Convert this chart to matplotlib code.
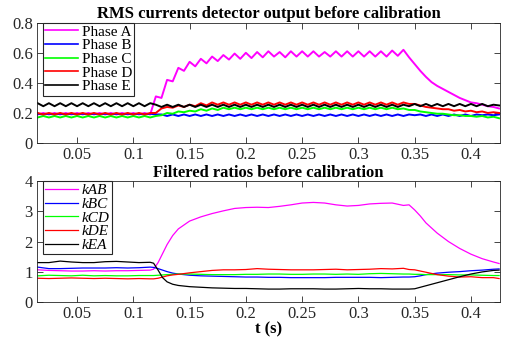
import numpy as np
import matplotlib
matplotlib.use("Agg")
import matplotlib.pyplot as plt

plt.rcParams['font.family'] = ['Liberation Serif', 'DejaVu Serif']

#time base of the detector output (s)
t_top = np.round(0.015 + 0.005*np.arange(83), 3)

#RMS currents (upper panel)
phase_a = [0.19, 0.20, 0.19, 0.20, 0.19, 0.20, 0.19, 0.20, 0.19, 0.20,
           0.19, 0.20, 0.19, 0.20, 0.19, 0.20, 0.19, 0.20, 0.19, 0.20,
           0.19, 0.31, 0.30, 0.42, 0.41, 0.50, 0.48, 0.54, 0.51, 0.56,
           0.53, 0.575, 0.545, 0.585, 0.555, 0.595, 0.56, 0.60, 0.565, 0.605,
           0.57, 0.61, 0.575, 0.605, 0.57, 0.61, 0.575, 0.61, 0.575, 0.61,
           0.575, 0.605, 0.575, 0.61, 0.575, 0.61, 0.575, 0.61, 0.575, 0.61,
           0.575, 0.61, 0.575, 0.615, 0.58, 0.62, 0.57, 0.525, 0.48, 0.44,
           0.405, 0.38, 0.36, 0.34, 0.32, 0.30, 0.285, 0.27, 0.265, 0.255,
           0.245, 0.24, 0.23]
phase_b = [0.195, 0.19, 0.195, 0.19, 0.195, 0.19, 0.195, 0.19, 0.195, 0.19,
           0.195, 0.19, 0.195, 0.19, 0.195, 0.19, 0.195, 0.19, 0.195, 0.19,
           0.195, 0.19, 0.19, 0.18, 0.19, 0.18, 0.19, 0.18, 0.19, 0.18,
           0.19, 0.18, 0.19, 0.18, 0.19, 0.18, 0.19, 0.18, 0.19, 0.18,
           0.19, 0.18, 0.19, 0.18, 0.19, 0.18, 0.19, 0.18, 0.19, 0.18,
           0.19, 0.18, 0.19, 0.18, 0.19, 0.18, 0.19, 0.18, 0.19, 0.18,
           0.19, 0.18, 0.19, 0.18, 0.19, 0.18, 0.19, 0.185, 0.19, 0.18,
           0.19, 0.18, 0.19, 0.18, 0.19, 0.18, 0.19, 0.18, 0.19, 0.185,
           0.19, 0.185, 0.19]
phase_c = [0.17, 0.18, 0.17, 0.18, 0.17, 0.18, 0.17, 0.18, 0.17, 0.18,
           0.17, 0.18, 0.17, 0.18, 0.17, 0.18, 0.17, 0.18, 0.17, 0.18,
           0.17, 0.18, 0.185, 0.20, 0.195, 0.21, 0.205, 0.215, 0.21, 0.225,
           0.215, 0.23, 0.22, 0.235, 0.225, 0.235, 0.225, 0.235, 0.225, 0.235,
           0.225, 0.235, 0.225, 0.235, 0.225, 0.235, 0.225, 0.235, 0.225, 0.235,
           0.225, 0.235, 0.225, 0.235, 0.225, 0.235, 0.225, 0.235, 0.225, 0.235,
           0.225, 0.235, 0.225, 0.235, 0.225, 0.23, 0.22, 0.22, 0.21, 0.205,
           0.20, 0.195, 0.195, 0.19, 0.185, 0.185, 0.18, 0.18, 0.175, 0.18,
           0.17, 0.175, 0.165]
phase_d = [0.20, 0.19, 0.20, 0.19, 0.20, 0.19, 0.20, 0.19, 0.20, 0.19,
           0.20, 0.19, 0.20, 0.19, 0.20, 0.19, 0.20, 0.19, 0.20, 0.19,
           0.20, 0.20, 0.23, 0.24, 0.235, 0.25, 0.24, 0.255, 0.245, 0.265,
           0.25, 0.27, 0.255, 0.27, 0.255, 0.27, 0.255, 0.27, 0.255, 0.27,
           0.255, 0.27, 0.255, 0.27, 0.255, 0.27, 0.255, 0.27, 0.255, 0.27,
           0.255, 0.27, 0.255, 0.27, 0.255, 0.27, 0.255, 0.27, 0.255, 0.27,
           0.255, 0.27, 0.255, 0.27, 0.255, 0.27, 0.26, 0.26, 0.25, 0.24,
           0.235, 0.23, 0.225, 0.225, 0.215, 0.22, 0.21, 0.215, 0.205, 0.21,
           0.20, 0.205, 0.20]
phase_e = [0.265, 0.245, 0.265, 0.245, 0.265, 0.245, 0.265, 0.245, 0.265, 0.245,
           0.265, 0.245, 0.265, 0.245, 0.265, 0.245, 0.265, 0.245, 0.265, 0.245,
           0.265, 0.255, 0.24, 0.255, 0.24, 0.255, 0.24, 0.255, 0.24, 0.255,
           0.24, 0.255, 0.24, 0.255, 0.24, 0.255, 0.24, 0.255, 0.24, 0.255,
           0.24, 0.255, 0.24, 0.255, 0.24, 0.255, 0.24, 0.255, 0.24, 0.255,
           0.24, 0.255, 0.24, 0.255, 0.24, 0.255, 0.24, 0.255, 0.24, 0.255,
           0.24, 0.255, 0.24, 0.255, 0.24, 0.255, 0.245, 0.26, 0.245, 0.26,
           0.245, 0.26, 0.245, 0.26, 0.245, 0.26, 0.245, 0.26, 0.245, 0.26,
           0.245, 0.255, 0.25]

#time base of the ratios (s)
t_bot = [0.015, 0.025, 0.035, 0.045, 0.055, 0.065, 0.075, 0.085, 0.095, 0.105,
         0.115, 0.118, 0.122, 0.126, 0.13, 0.135, 0.14, 0.15, 0.16, 0.17,
         0.18, 0.19, 0.2, 0.21, 0.22, 0.23, 0.24, 0.25, 0.26, 0.27,
         0.28, 0.29, 0.3, 0.31, 0.32, 0.33, 0.34, 0.345, 0.35, 0.355,
         0.36, 0.37, 0.38, 0.39, 0.4, 0.41, 0.42, 0.425]

#filtered ratios (lower panel)
k_ab = [1.06, 1.04, 1.03, 1.02, 1.02, 1.03, 1.02, 1.03, 1.03, 1.04,
        1.05, 1.08, 1.3, 1.6, 1.9, 2.2, 2.42, 2.68, 2.82, 2.93,
        3.02, 3.1, 3.13, 3.14, 3.13, 3.17, 3.22, 3.28, 3.3, 3.28,
        3.22, 3.18, 3.2, 3.25, 3.27, 3.28, 3.2, 3.22, 3.05, 2.85,
        2.62, 2.28, 2.0, 1.77, 1.58, 1.43, 1.32, 1.27]
k_bc = [1.15, 1.1, 1.1, 1.11, 1.12, 1.12, 1.12, 1.13, 1.12, 1.13,
        1.15, 1.14, 1.1, 1.05, 1.0, 0.95, 0.92, 0.88, 0.86, 0.85,
        0.84, 0.83, 0.82, 0.82, 0.81, 0.81, 0.8, 0.8, 0.8, 0.8,
        0.81, 0.81, 0.81, 0.81, 0.8, 0.81, 0.82, 0.82, 0.83, 0.86,
        0.9, 0.95, 0.98, 1.0, 1.03, 1.05, 1.08, 1.09]
k_cd = [0.86, 0.88, 0.87, 0.86, 0.88, 0.86, 0.87, 0.86, 0.86, 0.87,
        0.87, 0.87, 0.88, 0.89, 0.9, 0.91, 0.92, 0.92, 0.91, 0.9,
        0.9, 0.9, 0.91, 0.91, 0.92, 0.92, 0.91, 0.91, 0.92, 0.92,
        0.91, 0.92, 0.91, 0.93, 0.94, 0.93, 0.92, 0.92, 0.91, 0.91,
        0.9, 0.9, 0.9, 0.89, 0.89, 0.88, 0.87, 0.87]
k_de = [0.78, 0.77, 0.78, 0.79, 0.78, 0.77, 0.78, 0.77, 0.76, 0.77,
        0.76, 0.76, 0.78, 0.82, 0.86, 0.89, 0.91, 0.96, 1.0, 1.04,
        1.06, 1.06, 1.07, 1.1, 1.08, 1.07, 1.06, 1.06, 1.06, 1.07,
        1.08, 1.06, 1.07, 1.08, 1.1, 1.09, 1.11, 1.07, 1.06, 1.02,
        0.98, 0.9, 0.85, 0.82, 0.83, 0.8, 0.8, 0.77]
k_ea = [1.3, 1.3, 1.35, 1.32, 1.3, 1.3, 1.33, 1.34, 1.32, 1.3,
        1.31, 1.28, 1.05, 0.8, 0.66, 0.58, 0.54, 0.5, 0.48, 0.46,
        0.45, 0.44, 0.44, 0.43, 0.42, 0.42, 0.43, 0.43, 0.43, 0.42,
        0.42, 0.43, 0.44, 0.43, 0.43, 0.42, 0.42, 0.42, 0.43, 0.48,
        0.53, 0.63, 0.73, 0.83, 0.92, 0.99, 1.04, 1.05]

colors = ['#ff00ff', '#0000ff', '#00ff00', '#ff0000', '#000000']
top_labels = ['Phase A', 'Phase B', 'Phase C', 'Phase D', 'Phase E']
bot_labels = ['kAB', 'kBC', 'kCD', 'kDE', 'kEA']
xticks = [0.05, 0.1, 0.15, 0.2, 0.25, 0.3, 0.35, 0.4]
xtick_labels = ['0.05', '0.1', '0.15', '0.2', '0.25', '0.3', '0.35', '0.4']

gray = '#262626'
fs = 12
fig = plt.figure(figsize=(5.06, 3.39), dpi=100)
ax1 = fig.add_axes([0.0731, 0.578, 0.915, 0.355])
ax2 = fig.add_axes([0.0731, 0.11, 0.915, 0.355])

for y, c, lab in zip([phase_a, phase_b, phase_c, phase_d, phase_e], colors, top_labels):
    ax1.plot(t_top, y, color=c, lw=1.4, label=lab)
for y, c, lab in zip([k_ab, k_bc, k_cd, k_de, k_ea], colors, bot_labels):
    ax2.plot(t_bot, y, color=c, lw=0.9, label=lab)

ax1.set_ylim(0, 0.8)
ax1.set_yticks([0, 0.2, 0.4, 0.6, 0.8])
ax1.set_yticklabels(['0', '0.2', '0.4', '0.6', '0.8'])
ax2.set_ylim(0, 4)
ax2.set_yticks([0, 1, 2, 3, 4])

for ax in (ax1, ax2):
    ax.set_xlim(0.0144, 0.4258)
    ax.set_xticks(xticks)
    ax.set_xticklabels(xtick_labels)
    ax.tick_params(direction='in', top=True, right=True, length=4, width=0.6,
                   colors=gray, labelsize=fs, pad=3)
    for s in ax.spines.values():
        s.set_color(gray)
        s.set_linewidth(0.6)

ax1.set_title('RMS currents detector output before calibration', fontsize=fs,
              fontweight='bold', pad=3.5)
ax2.set_title('Filtered ratios before calibration', fontsize=fs,
              fontweight='bold', pad=3)
ax2.set_xlabel('t (s)', fontsize=fs, fontweight='bold', labelpad=0)

leg_kw = dict(loc='upper left', bbox_to_anchor=(0.012, 1.0), fancybox=False,
              framealpha=1, edgecolor=gray, handlelength=2.2, handletextpad=0.2,
              labelspacing=0.0, borderpad=0.15, borderaxespad=0.0)
l1 = ax1.legend(prop={'size': 11}, **leg_kw)
l2 = ax2.legend(prop={'size': 11, 'style': 'italic'}, **leg_kw)
for l in (l1, l2):
    l.get_frame().set_linewidth(0.8)
for line in l1.get_lines():
    line.set_linewidth(1.2)

fig.savefig('out.png', dpi=100)
